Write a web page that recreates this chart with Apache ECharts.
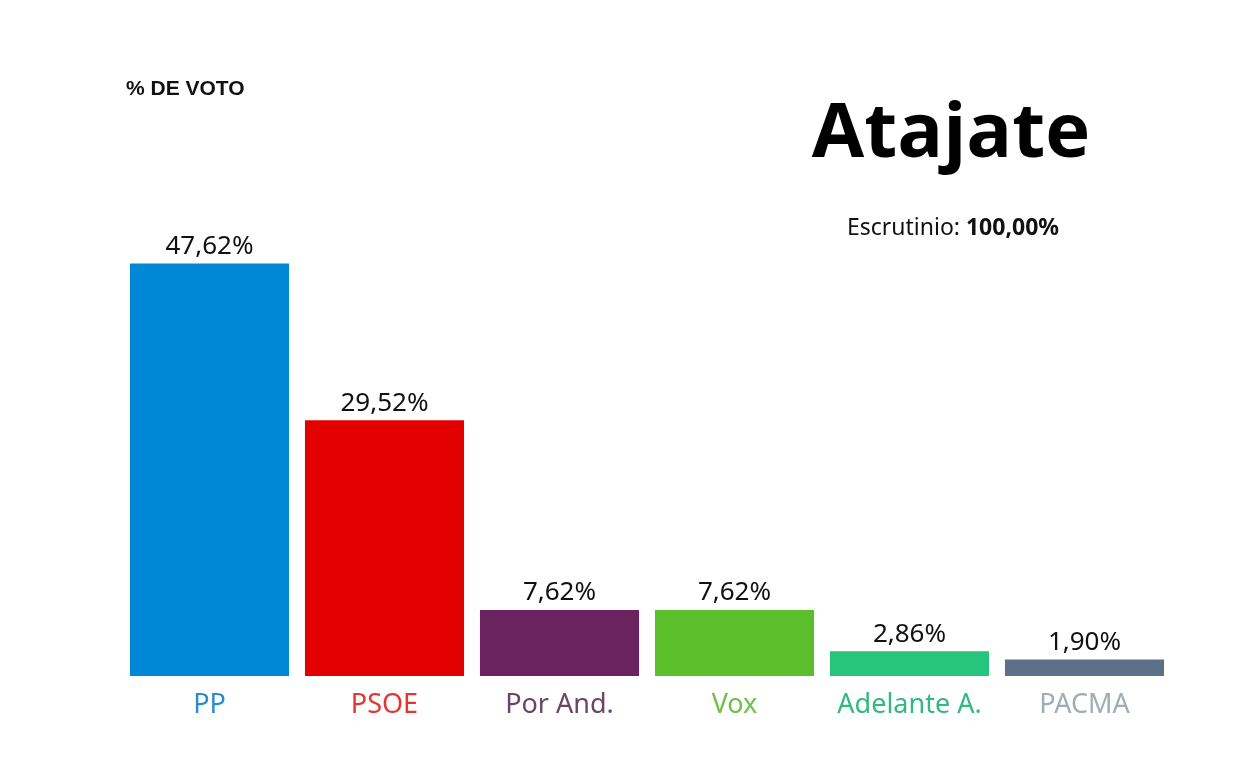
<!DOCTYPE html>
<html>
<head>
<meta charset="utf-8">
<script src="https://cdn.jsdelivr.net/npm/echarts@6/dist/echarts.min.js"></script>
<style>
  html, body { margin: 0; padding: 0; background: #fff; }
  #chart { width: 1248px; height: 770px; }
</style>
</head>
<body>
<div id="chart"></div>
<script>
// datos
var partidos = ['PP', 'PSOE', 'Por And.', 'Vox', 'Adelante A.', 'PACMA'];
var votos = [47.62, 29.52, 7.62, 7.62, 2.86, 1.90];
var coloresBarra = ['#0088d6', '#e20000', '#6b2360', '#5bbf2b', '#26c47d', '#5e7087'];
var coloresTexto = ['#2b8ccc', '#e43535', '#6d4368', '#6fbf4a', '#33b884', '#a3abb3'];

var chart = echarts.init(document.getElementById('chart'));

var option = {
  backgroundColor: '#fff',
  animation: false,
  title: [
    {
      text: '% DE VOTO',
      left: 121, top: 74,
      textStyle: { fontFamily: 'Liberation Sans', fontWeight: 'bold', fontSize: 21, color: '#111' }
    },
    {
      text: 'Atajate',
      left: 946, top: 92, textAlign: 'center',
      textStyle: { fontFamily: 'Open Sans', fontWeight: 'bold', fontSize: 76, color: '#000' }
    },
    {
      text: 'Escrutinio: {b|100,00%}',
      left: 948, top: 212, textAlign: 'center',
      textStyle: {
        fontFamily: 'Noto Sans', fontWeight: 'normal', fontSize: 23, color: '#111',
        rich: { b: { fontFamily: 'Noto Sans', fontWeight: 'bold', fontSize: 23, color: '#111' } }
      }
    }
  ],
  grid: { left: 122, right: 76, top: 243, bottom: 94 },
  xAxis: {
    type: 'category',
    data: partidos,
    axisLine: { show: false },
    axisTick: { show: false },
    axisLabel: {
      interval: 0,
      margin: 16,
      fontFamily: 'Noto Sans', fontSize: 27,
      color: function (v, i) { return coloresTexto[partidos.indexOf(v)]; }
    }
  },
  yAxis: {
    type: 'value', min: 0, max: 50, show: false,
    splitLine: { show: false }
  },
  series: [{
    type: 'bar',
    data: votos.map(function (v, i) {
      return { value: v, itemStyle: { color: coloresBarra[i] } };
    }),
    barCategoryGap: '9.1%',
    label: {
      show: true, position: 'top', distance: 4,
      fontFamily: 'Noto Sans', fontSize: 26, color: '#111',
      formatter: function (p) { return p.value.toFixed(2).replace('.', ',') + '%'; }
    }
  }]
};

chart.setOption(option);
</script>
</body>
</html>
